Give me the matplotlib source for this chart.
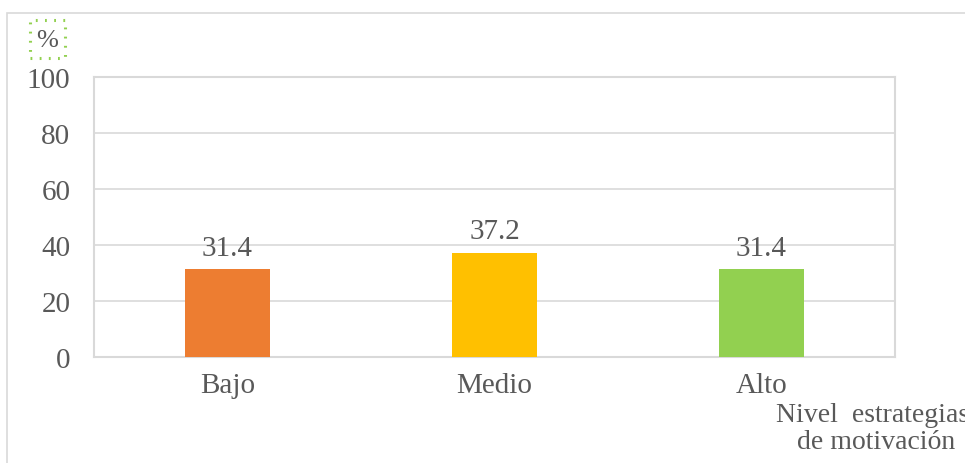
import matplotlib.pyplot as plt
from matplotlib.patches import Rectangle

categories = ['Bajo', 'Medio', 'Alto']
values = [31.4, 37.2, 31.4]
bar_colors = ['#ED7D31', '#FFC000', '#92D050']
y_ticks = [0, 20, 40, 60, 80, 100]

plt.rcParams['font.family'] = ['Liberation Serif', 'DejaVu Serif']
text_color = '#595959'
grid_color = '#D9D9D9'

fig = plt.figure(figsize=(9.65, 4.64), dpi=100)
W, H = 965, 464

# outer chart border
fig.patches.append(Rectangle((7 / W, -0.1), 1.0, (H - 14) / H + 0.1,
                             transform=fig.transFigure, fill=False,
                             edgecolor=grid_color, linewidth=1.2))

ax = fig.add_axes([94 / W, 1 - 358 / H, (895 - 94) / W, (358 - 78) / H])
x = range(len(categories))
bars = ax.bar(x, values, width=0.315, color=bar_colors, zorder=3)

ax.set_xlim(-0.5, len(categories) - 0.5)
ax.set_ylim(0, 100)
ax.set_yticks(y_ticks)
ax.set_xticks(list(x))
ax.set_xticklabels(categories)
ax.yaxis.grid(True, color=grid_color, linewidth=1.2, zorder=0)
ax.tick_params(length=0, labelsize=21, colors=text_color)
ax.tick_params(axis='x', pad=11)
ax.tick_params(axis='y', pad=17)
for s in ax.spines.values():
    s.set_color(grid_color)
    s.set_linewidth(1.5)

for b, v in zip(bars, values):
    ax.text(b.get_x() + b.get_width() / 2, v + 3, f'{v:.1f}',
            ha='center', va='bottom', fontsize=21, color=text_color)

# "%" unit label with its dotted selection box
fig.patches.append(Rectangle((30 / W, 1 - 59 / H), 35 / W, 38 / H,
                             transform=fig.transFigure, fill=False,
                             edgecolor='#92D050', linewidth=2.2,
                             linestyle=(0, (0.6, 2.4))))
fig.text(47 / W, 1 - 41 / H, '%', ha='center', va='center',
         fontsize=19, color=text_color)

# axis title, cut at the right edge as in the original
fig.text(873 / W, 1 - 429 / H, 'Nivel  estrategias\n de motivación',
         ha='center', va='center', fontsize=20, color=text_color,
         linespacing=1.1)

fig.savefig('out.png', dpi=100, facecolor='white')
